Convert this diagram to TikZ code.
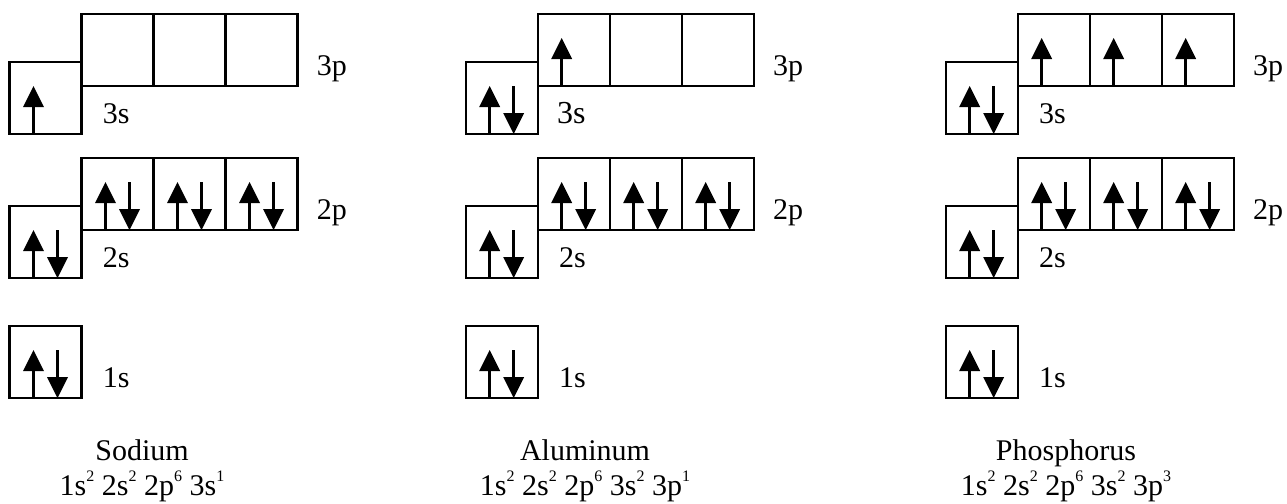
\documentclass[tikz,border=0pt]{standalone}
\usepackage{fontspec}
\setmainfont{Liberation Serif}
\newcommand{\esup}[1]{\raisebox{7pt}{\fontsize{8}{8}\selectfont #1}}
\tikzset{
 orb/.style={draw, line width=1.15pt, minimum size=36pt, inner sep=0pt, outer sep=0pt, anchor=north west},
 lbl/.style={anchor=base west, inner sep=0pt, font=\fontsize{15}{18}\selectfont},
 elname/.style={anchor=base, inner sep=0pt, font=\fontsize{15}{18}\selectfont},
 spinup/.pic={\draw[line width=1.3pt] (24,72) -- (24,42); \fill (24,24) -- (13.5,45) -- (34.5,45) -- cycle;},
 spindn/.pic={\draw[line width=1.3pt] (48,24) -- (48,55); \fill (48,72) -- (37.5,51) -- (58.5,51) -- cycle;}
}
\newcommand{\orbdiagram}[2]{%
 \node[orb] (#1sthree) at (#2,62) {};
 \node[orb] (#1pthreea) at (#2+72,14) {};
 \node[orb] (#1pthreeb) at (#2+144,14) {};
 \node[orb] (#1pthreec) at (#2+216,14) {};
 \node[orb] (#1stwo) at (#2,206) {};
 \node[orb] (#1ptwoa) at (#2+72,158) {};
 \node[orb] (#1ptwob) at (#2+144,158) {};
 \node[orb] (#1ptwoc) at (#2+216,158) {};
 \node[orb] (#1sone) at (#2,326) {};
 \node[lbl] (#1lthreep) at (#2+307,75) {3p};
 \node[lbl] (#1ltwop) at (#2+307,219) {2p};
 \node[lbl] (#1ltwos) at (#2+93,267) {2s};
 \node[lbl] (#1lones) at (#2+93,387) {1s};
 \foreach \b in {stwo,ptwoa,ptwob,ptwoc,sone}{
   \pic at (#1\b.north west) {spinup};
   \pic at (#1\b.north west) {spindn};
 }
}
\begin{document}
\begin{tikzpicture}[x=0.5pt,y=-0.5pt]
\useasboundingbox (0,0) rectangle (1287,504);
% Sodium
\orbdiagram{na}{9.5}
\node[lbl] (nalthrees) at (9.5+93,123) {3s};
\pic at (nasthree.north west) {spinup};
\node[elname] (naname) at (142,460) {Sodium};
\node[elname] (naconf) at (142,495) {1s\esup{2} 2s\esup{2} 2p\esup{6} 3s\esup{1}};
% Aluminum
\orbdiagram{al}{465.7}
\node[lbl, font=\fontsize{16}{18}\selectfont] (allthrees) at (465.7+91,123) {3s};
\pic at (alsthree.north west) {spinup};
\pic at (alsthree.north west) {spindn};
\pic at (alpthreea.north west) {spinup};
\node[elname] (alname) at (585,460) {Aluminum};
\node[elname] (alconf) at (585,495) {1s\esup{2} 2s\esup{2} 2p\esup{6} 3s\esup{2} 3p\esup{1}};
% Phosphorus
\orbdiagram{ph}{945.7}
\node[lbl] (phlthrees) at (945.7+93,123) {3s};
\pic at (phsthree.north west) {spinup};
\pic at (phsthree.north west) {spindn};
\pic at (phpthreea.north west) {spinup};
\pic at (phpthreeb.north west) {spinup};
\pic at (phpthreec.north west) {spinup};
\node[elname] (phname) at (1066,460) {Phosphorus};
\node[elname] (phconf) at (1066,495) {1s\esup{2} 2s\esup{2} 2p\esup{6} 3s\esup{2} 3p\esup{3}};
\end{tikzpicture}
\end{document}
